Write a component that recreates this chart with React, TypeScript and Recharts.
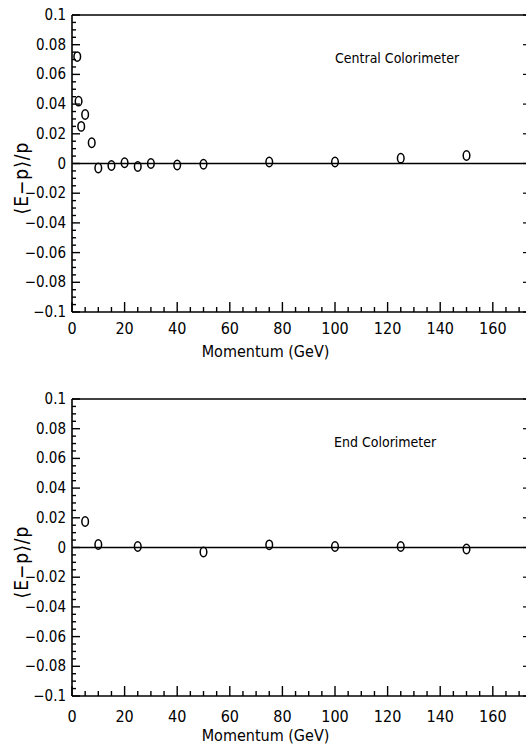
import { ScatterChart, Scatter, XAxis, YAxis, ReferenceLine } from "recharts";

// Central calorimeter: momentum (GeV) and (E-p)/p residual
const centralMomentum = [2, 2.5, 3.5, 5, 7.5, 10, 15, 20, 25, 30, 40, 50, 75, 100, 125, 150];
const centralResidual = [0.072, 0.042, 0.025, 0.033, 0.014, -0.003, -0.0013, 0.0005, -0.002, 0, -0.001, -0.0005, 0.001, 0.001, 0.0036, 0.0054];

// End calorimeter
const endMomentum = [5, 10, 25, 50, 75, 100, 125, 150];
const endResidual = [0.0175, 0.002, 0.0007, -0.003, 0.0018, 0.0007, 0.0007, -0.001];

const xTicks = [0, 5, 10, 15, 20, 25, 30, 35, 40, 45, 50, 55, 60, 65, 70, 75, 80, 85, 90, 95, 100, 105, 110, 115, 120, 125, 130, 135, 140, 145, 150, 155, 160, 165, 170];
const yMajorTicks = [-0.1, -0.08, -0.06, -0.04, -0.02, 0, 0.02, 0.04, 0.06, 0.08, 0.1];
const yTicks = [
  -0.1, -0.095, -0.09, -0.085, -0.08, -0.075, -0.07, -0.065, -0.06, -0.055, -0.05, -0.045, -0.04, -0.035,
  -0.03, -0.025, -0.02, -0.015, -0.01, -0.005, 0, 0.005, 0.01, 0.015, 0.02, 0.025, 0.03, 0.035, 0.04,
  0.045, 0.05, 0.055, 0.06, 0.065, 0.07, 0.075, 0.08, 0.085, 0.09, 0.095, 0.1,
];

const X_DOMAIN: [number, number] = [0, 173];
const Y_DOMAIN: [number, number] = [-0.1, 0.1];

const FONT = "'Liberation Sans Narrow', 'DejaVu Sans Condensed', 'Liberation Sans', sans-serif";
const PANEL_W = 540;
const PANEL_H = 384;
const PLOT_TOP = 15;
const PLOT_BOTTOM = 312;
const PLOT_LEFT = 72;
const PLOT_RIGHT = 527;

const isMajorY = (v: number) => Math.abs(v * 50 - Math.round(v * 50)) < 1e-6;
const fmtY = (v: number) => (v === 0 ? "0" : v < 0 ? `\u2212${String(-v)}` : String(v));

function BottomTick({ x, y, payload, dy }: any) {
  const v = payload.value as number;
  const major = v % 20 === 0;
  return (
    <g>
      <line x1={x} x2={x} y1={y} y2={y - (major ? 10 : 5)} stroke="#000" strokeWidth={1.4} />
      {major && v <= 160 && (
        <text x={x} y={y + dy} textAnchor="middle" dominantBaseline="central" fontFamily={FONT} fontSize={16} fill="#000">
          {v}
        </text>
      )}
    </g>
  );
}

function TopTick({ x, y, payload }: any) {
  const major = (payload.value as number) % 20 === 0;
  return <line x1={x} x2={x} y1={y} y2={y + (major ? 10 : 5)} stroke="#000" strokeWidth={1.4} />;
}

function LeftTick({ x, y, payload }: any) {
  const v = payload.value as number;
  const major = isMajorY(v);
  return (
    <g>
      <line x1={x} x2={x + (major ? 8 : 4)} y1={y} y2={y} stroke="#000" strokeWidth={1.4} />
      {major && (
        <text x={x - 6} y={y} textAnchor="end" dominantBaseline="central" fontFamily={FONT} fontSize={15} fill="#000">
          {fmtY(v)}
        </text>
      )}
    </g>
  );
}

function RightTick({ x, y }: any) {
  return <line x1={x} x2={x - 4} y1={y} y2={y} stroke="#000" strokeWidth={1.2} />;
}

function Ring({ cx, cy }: any) {
  return <ellipse cx={cx} cy={cy} rx={3.3} ry={4.7} fill="none" stroke="#000" strokeWidth={1.5} />;
}

interface PanelProps {
  momentum: number[];
  residual: number[];
  title: string;
  titleX: number;
  tickDy: number;
  labelOffset: number;
}

function Panel({ momentum, residual, title, titleX, tickDy, labelOffset }: PanelProps) {
  const data = momentum.map((p, i) => ({ p, r: residual[i] }));
  const axisLine = { stroke: "#000", strokeWidth: 1.6 };
  // axes are 1px thick so Recharts still draws them; margins absorb that pixel
  return (
    <div style={{ position: "relative", width: PANEL_W, height: PANEL_H }}>
      <ScatterChart
        width={PANEL_W}
        height={PANEL_H}
        margin={{ top: PLOT_TOP - 1, right: PANEL_W - PLOT_RIGHT - 1, bottom: PANEL_H - PLOT_BOTTOM - 1, left: PLOT_LEFT - 1 }}
      >
        <XAxis
          xAxisId="b"
          dataKey="p"
          type="number"
          domain={X_DOMAIN}
          allowDataOverflow
          ticks={xTicks}
          interval={0}
          height={1}
          tickSize={0}
          tickMargin={0}
          tickLine={false}
          axisLine={axisLine}
          tick={(props: any) => <BottomTick {...props} dy={tickDy} />}
          label={{
            value: "Momentum (GeV)",
            position: "bottom",
            offset: labelOffset,
            dx: -34,
            style: { fontFamily: FONT, fontSize: 16, fill: "#000" },
          }}
        />
        <XAxis
          xAxisId="t"
          orientation="top"
          type="number"
          domain={X_DOMAIN}
          allowDataOverflow
          ticks={xTicks}
          interval={0}
          height={1}
          tickSize={0}
          tickMargin={0}
          tickLine={false}
          axisLine={axisLine}
          tick={(props: any) => <TopTick {...props} />}
        />
        <YAxis
          yAxisId="l"
          dataKey="r"
          type="number"
          domain={Y_DOMAIN}
          allowDataOverflow
          ticks={yTicks}
          interval={0}
          width={1}
          tickSize={0}
          tickMargin={0}
          tickLine={false}
          axisLine={axisLine}
          tick={(props: any) => <LeftTick {...props} />}
        />
        <YAxis
          yAxisId="r"
          orientation="right"
          type="number"
          domain={Y_DOMAIN}
          allowDataOverflow
          ticks={yMajorTicks}
          interval={0}
          width={1}
          tickSize={0}
          tickMargin={0}
          tickLine={false}
          axisLine={axisLine}
          tick={(props: any) => <RightTick {...props} />}
        />
        <ReferenceLine xAxisId="b" yAxisId="l" y={0} stroke="#000" strokeWidth={1.3} />
        <Scatter xAxisId="b" yAxisId="l" data={data} shape={(props: any) => <Ring {...props} />} isAnimationActive={false} />
      </ScatterChart>
      <div
        style={{
          position: "absolute",
          left: titleX,
          top: 50,
          fontFamily: FONT,
          fontSize: 14,
          color: "#000",
          whiteSpace: "nowrap",
        }}
      >
        {title}
      </div>
      <div
        style={{
          position: "absolute",
          left: 21,
          top: 178,
          transform: "translate(-50%, -50%) rotate(-90deg)",
          fontFamily: FONT,
          fontSize: 19,
          letterSpacing: 1,
          color: "#000",
          whiteSpace: "nowrap",
        }}
      >
        {"\u27E8E\u2212p\u27E9/p"}
      </div>
    </div>
  );
}

export default function App() {
  return (
    <div style={{ position: "absolute", left: 0, top: 0, width: 526, height: 748, overflow: "hidden", background: "#fff" }}>
      <Panel
        momentum={centralMomentum}
        residual={centralResidual}
        title="Central Colorimeter"
        titleX={335}
        tickDy={16}
        labelOffset={33}
      />
      <div style={{ position: "absolute", left: 0, top: 384 }}>
        <Panel
          momentum={endMomentum}
          residual={endResidual}
          title="End Colorimeter"
          titleX={334}
          tickDy={20}
          labelOffset={33}
        />
      </div>
    </div>
  );
}
